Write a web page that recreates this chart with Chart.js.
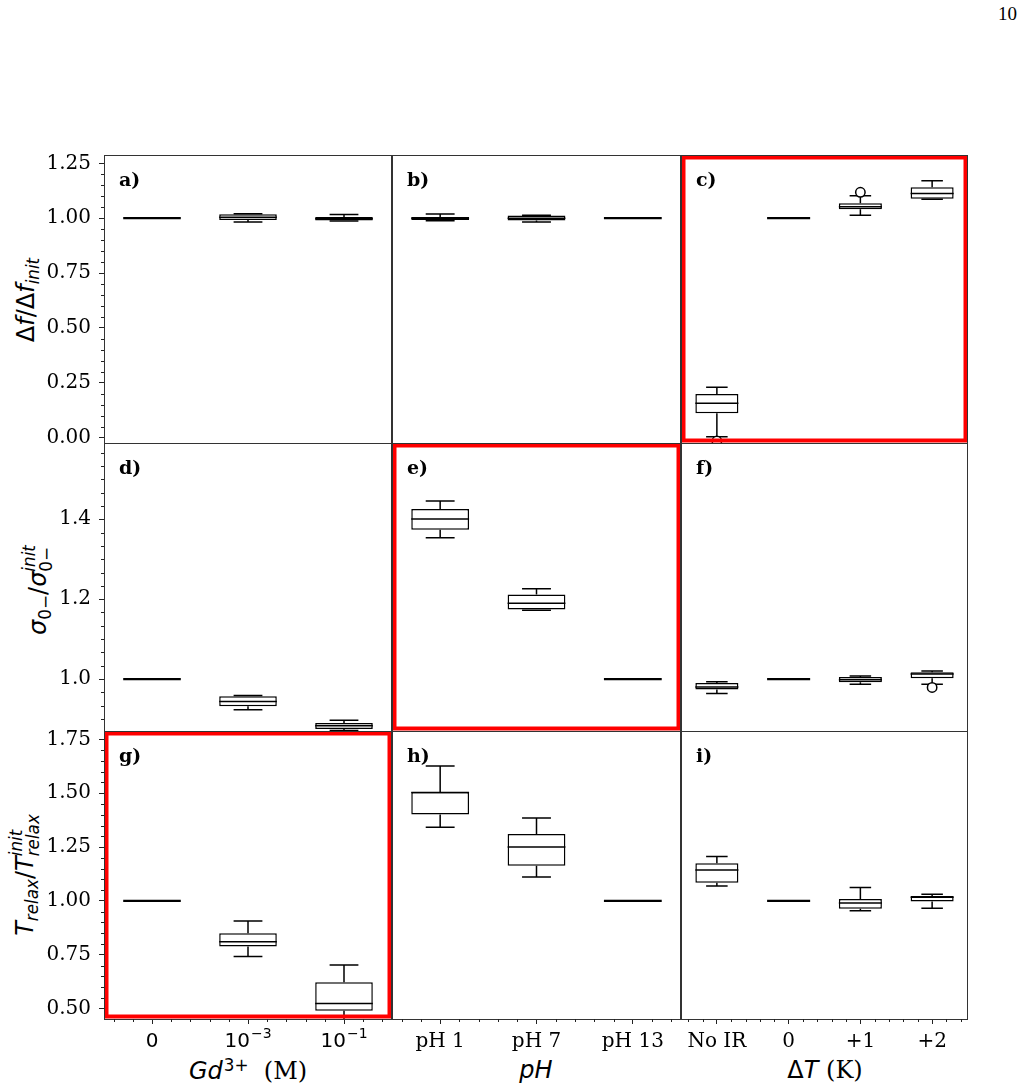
<!DOCTYPE html>
<html><head><meta charset="utf-8">
<script src="https://cdn.jsdelivr.net/npm/chart.js@4.4.1/dist/chart.umd.min.js"></script>
<style>
html,body{margin:0;padding:0;background:#fff;}
body{width:1024px;height:1090px;position:relative;overflow:hidden;}
canvas{position:absolute;left:0;top:0;}
.t{position:absolute;white-space:nowrap;color:#000;line-height:1;}
.m{font-family:"DejaVu Sans";font-size:24px;}
.s{font-family:"DejaVu Serif";font-size:24px;}
.rot{transform:translate(-50%,-50%) rotate(-90deg);}
.ctr{transform:translate(-50%,-50%);}
.sb{font-size:0.7em;position:relative;top:0.3em;}
.sp{font-size:0.7em;position:relative;top:-0.5em;margin-left:1px;}
.ss{display:inline-block;font-size:0.7em;line-height:1;vertical-align:-0.35em;}
.ss span{display:block;}
</style></head>
<body>
<div class="t" style="right:7px;top:4px;font-family:'Liberation Serif';font-size:19px;">10</div>
<div class="t m rot" style="left:26px;top:300px;">Δ<i>f</i>/Δ<i>f</i><span class="sb"><i>init</i></span></div>
<div class="t m rot" style="left:38px;top:590px;"><i>σ</i><span class="sb">0−</span>/<i>σ</i><span class="ss"><span><i>init</i></span><span>0−</span></span></div>
<div class="t m rot" style="left:25px;top:875px;"><i>T</i><span class="sb"><i>relax</i></span>/<i>T</i><span class="ss"><span><i>init</i></span><span><i>relax</i></span></span></div>
<div class="t ctr" style="left:248px;top:1071px;"><span class="m"><i>Gd</i><span class="sp">3+</span></span><span class="s">&nbsp; (M)</span></div>
<div class="t m ctr" style="left:536px;top:1070px;"><i>pH</i></div>
<div class="t ctr" style="left:825px;top:1070px;"><span class="m">Δ<i>T</i></span><span class="s"> (K)</span></div>
<script>
// ---------- categories / tick labels ----------
const gdLabels = ['0', '10⁻³', '10⁻¹'];
const phLabels = ['pH 1', 'pH 7', 'pH 13'];
const dtLabels = ['No IR', '0', '+1', '+2'];
const row1Ticks = [0, 0.25, 0.5, 0.75, 1.0, 1.25];
const row2Ticks = [1.0, 1.2, 1.4];
const row3Ticks = [0.5, 0.75, 1.0, 1.25, 1.5, 1.75];

// ---------- box plot values (whisker low, Q1, median, Q3, whisker high, outliers) ----------
// a) Δf/Δf_init vs Gd3+
const aLow  = [1, 0.983, 0.987];
const aQ1   = [1, 0.992, 0.990];
const aMed  = [1, 1.004, 0.998];
const aQ3   = [1, 1.018, 1.005];
const aHigh = [1, 1.020, 1.017];
// b) Δf/Δf_init vs pH
const bLow  = [0.988, 0.983, 1];
const bQ1   = [0.992, 0.990, 1];
const bMed  = [1.000, 1.000, 1];
const bQ3   = [1.006, 1.012, 1];
const bHigh = [1.019, 1.014, 1];
// c) Δf/Δf_init vs ΔT
const cLow  = [0.005, 1, 1.013, 1.086];
const cQ1   = [0.111, 1, 1.041, 1.089];
const cMed  = [0.157, 1, 1.052, 1.113];
const cQ3   = [0.199, 1, 1.068, 1.141];
const cHigh = [0.230, 1, 1.102, 1.171];
const cOut  = [-0.015, null, 1.118, null];
// d) σ/σ_init vs Gd3+
const dLow  = [1, 0.923, 0.871];
const dQ1   = [1, 0.932, 0.875];
const dMed  = [1, 0.944, 0.883];
const dQ3   = [1, 0.957, 0.890];
const dHigh = [1, 0.959, 0.897];
// e) σ/σ_init vs pH
const eLow  = [1.354, 1.172, 1];
const eQ1   = [1.374, 1.174, 1];
const eMed  = [1.401, 1.190, 1];
const eQ3   = [1.426, 1.212, 1];
const eHigh = [1.446, 1.226, 1];
// f) σ/σ_init vs ΔT
const fLow  = [0.964, 1, 0.987, 0.987];
const fQ1   = [0.974, 1, 0.992, 1.002];
const fMed  = [0.980, 1, 0.998, 1.013];
const fQ3   = [0.990, 1, 1.005, 1.017];
const fHigh = [0.993, 1, 1.008, 1.020];
const fOut  = [null, null, null, 0.979];
// g) T/T_init vs Gd3+
const gLow  = [1, 0.742, 0.440];
const gQ1   = [1, 0.788, 0.490];
const gMed  = [1, 0.811, 0.524];
const gQ3   = [1, 0.850, 0.623];
const gHigh = [1, 0.907, 0.703];
// h) T/T_init vs pH
const hLow  = [1.342, 1.111, 1];
const hQ1   = [1.401, 1.164, 1];
const hMed  = [1.503, 1.251, 1];
const hQ3   = [1.506, 1.311, 1];
const hHigh = [1.627, 1.385, 1];
// i) T/T_init vs ΔT
const iLow  = [1.070, 1, 0.955, 0.966];
const iQ1   = [1.084, 1, 0.964, 0.997];
const iMed  = [1.144, 1, 0.991, 1.017];
const iQ3   = [1.175, 1, 1.009, 1.023];
const iHigh = [1.206, 1, 1.062, 1.031];

// ---------- layout ----------
const COLX = [104, 392, 681, 968];
const ROWY = [155, 443, 731, 1019];
const rowRange = [[-0.024, 1.288], [0.870, 1.591], [0.452, 1.789]];
const rowTicks = [row1Ticks, row2Ticks, row3Ticks];
const rowDec = [2, 1, 2];
const rowMinor = [0.05, 0.2 / 6, 0.05];
const colLabels = [gdLabels, phLabels, dtLabels];
const colFont = ['DejaVu Sans', 'DejaVu Serif', 'DejaVu Serif'];
const SUP = {'⁻': '−', '⁰': '0', '¹': '1', '²': '2', '³': '3', '⁴': '4', '⁵': '5', '⁶': '6', '⁷': '7', '⁸': '8', '⁹': '9'};

const panels = [
  {r:0,c:0,id:'a)',lo:aLow,q1:aQ1,md:aMed,q3:aQ3,hi:aHigh},
  {r:0,c:1,id:'b)',lo:bLow,q1:bQ1,md:bMed,q3:bQ3,hi:bHigh},
  {r:0,c:2,id:'c)',lo:cLow,q1:cQ1,md:cMed,q3:cQ3,hi:cHigh,out:cOut,red:true},
  {r:1,c:0,id:'d)',lo:dLow,q1:dQ1,md:dMed,q3:dQ3,hi:dHigh},
  {r:1,c:1,id:'e)',lo:eLow,q1:eQ1,md:eMed,q3:eQ3,hi:eHigh,red:true},
  {r:1,c:2,id:'f)',lo:fLow,q1:fQ1,md:fMed,q3:fQ3,hi:fHigh,out:fOut},
  {r:2,c:0,id:'g)',lo:gLow,q1:gQ1,md:gMed,q3:gQ3,hi:gHigh,red:true},
  {r:2,c:1,id:'h)',lo:hLow,q1:hQ1,md:hMed,q3:hQ3,hi:hHigh},
  {r:2,c:2,id:'i)',lo:iLow,q1:iQ1,md:iMed,q3:iQ3,hi:iHigh}
];

function makePanel(p) {
  const cv = document.createElement('canvas');
  cv.width = 1024; cv.height = 1090;
  document.body.appendChild(cv);
  const L = COLX[p.c], R = COLX[p.c + 1], T = ROWY[p.r], B = ROWY[p.r + 1];
  const showY = p.c === 0, showX = p.r === 2;
  const mathTicks = showX && p.c === 0;
  const YW = 80, XH = 50;
  const labels = colLabels[p.c];

  const boxPlugin = {
    id: 'box' + p.id,
    beforeDatasetsDraw(chart) {
      const {ctx, chartArea: a, scales: {x, y}} = chart;
      const cw = x.getPixelForValue(1) - x.getPixelForValue(0);
      ctx.save();
      ctx.beginPath(); ctx.rect(a.left, a.top, a.right - a.left, a.bottom - a.top); ctx.clip();
      ctx.strokeStyle = '#000'; ctx.lineWidth = 1.5;
      labels.forEach((_, i) => {
        const cx = x.getPixelForValue(i);
        const yl = y.getPixelForValue(p.lo[i]), yh = y.getPixelForValue(p.hi[i]);
        const y1 = y.getPixelForValue(p.q1[i]), y3 = y.getPixelForValue(p.q3[i]);
        ctx.beginPath();
        ctx.moveTo(cx, y3); ctx.lineTo(cx, yh);
        ctx.moveTo(cx, y1); ctx.lineTo(cx, yl);
        ctx.moveTo(cx - 0.15 * cw, yh); ctx.lineTo(cx + 0.15 * cw, yh);
        ctx.moveTo(cx - 0.15 * cw, yl); ctx.lineTo(cx + 0.15 * cw, yl);
        ctx.stroke();
      });
      ctx.restore();
    },
    afterDatasetsDraw(chart) {
      const {ctx, chartArea: a, scales: {x, y}} = chart;
      const cw = x.getPixelForValue(1) - x.getPixelForValue(0);
      ctx.save();
      ctx.beginPath(); ctx.rect(a.left, a.top, a.right - a.left, a.bottom - a.top); ctx.clip();
      ctx.strokeStyle = '#000';
      labels.forEach((_, i) => {
        const cx = x.getPixelForValue(i);
        const ym = y.getPixelForValue(p.md[i]);
        ctx.lineWidth = (p.q1[i] === p.q3[i]) ? 2.2 : 1.5;
        ctx.beginPath();
        ctx.moveTo(cx - 0.3 * cw, ym); ctx.lineTo(cx + 0.3 * cw, ym);
        ctx.stroke();
      });
      ctx.restore();
    },
    afterDraw(chart) {
      const {ctx, chartArea: a, scales: {x, y}} = chart;
      ctx.save();
      if (p.red) {
        ctx.strokeStyle = '#ff0000'; ctx.lineWidth = 4;
        ctx.strokeRect(a.left + 2.5, a.top + 2.5, a.right - a.left - 5, a.bottom - a.top - 5);
      }
      ctx.strokeStyle = '#333'; ctx.lineWidth = 1;
      ctx.strokeRect(a.left + 0.5, a.top + 0.5, a.right - a.left - 1, a.bottom - a.top);
      // panel letter
      ctx.fillStyle = '#000';
      ctx.font = 'bold 19px "DejaVu Serif"';
      ctx.textBaseline = 'alphabetic'; ctx.textAlign = 'left';
      ctx.fillText(p.id, a.left + 15, a.top + 31);
      // minor ticks
      ctx.strokeStyle = '#222'; ctx.lineWidth = 1;
      if (showY) {
        const st = rowMinor[p.r], base = rowTicks[p.r][0];
        const [mn, mx] = rowRange[p.r];
        const kmin = Math.ceil((mn - base) / st - 1e-6), kmax = Math.floor((mx - base) / st + 1e-6);
        ctx.beginPath();
        for (let k = kmin; k <= kmax; k++) {
          const v = base + k * st;
          if (rowTicks[p.r].some(t => Math.abs(t - v) < 1e-6)) continue;
          const py = Math.round(y.getPixelForValue(v)) + 0.5;
          ctx.moveTo(a.left, py); ctx.lineTo(a.left - 3, py);
        }
        ctx.stroke();
      }
      if (showX) {
        ctx.beginPath();
        for (let k = -2; k <= labels.length * 5 - 3; k++) {
          if (k % 5 === 0) continue;
          const px = Math.round(x.getPixelForValue(k / 5)) + 0.5;
          ctx.moveTo(px, a.bottom); ctx.lineTo(px, a.bottom + 3);
        }
        ctx.stroke();
      }
      // mathtext-style tick labels (base + raised exponent)
      if (mathTicks) {
        ctx.fillStyle = '#000';
        ctx.textAlign = 'left'; ctx.textBaseline = 'alphabetic';
        const by = a.bottom + 28;
        labels.forEach((lab, i) => {
          let base = '', exp = '';
          for (const ch of lab) { if (SUP[ch]) exp += SUP[ch]; else base += ch; }
          ctx.font = '20px "DejaVu Sans"';
          const wb = ctx.measureText(base).width;
          ctx.font = '14px "DejaVu Sans"';
          const we = exp ? ctx.measureText(exp).width + 1 : 0;
          const x0 = x.getPixelForValue(i) - (wb + we) / 2;
          ctx.font = '20px "DejaVu Sans"';
          ctx.fillText(base, x0, by);
          if (exp) { ctx.font = '14px "DejaVu Sans"'; ctx.fillText(exp, x0 + wb + 1, by - 9); }
        });
      }
      ctx.restore();
    }
  };

  const xScale = {
    display: showX, offset: true,
    grid: {display: true, offset: false, drawOnChartArea: false, drawTicks: true, tickLength: 5, color: '#222', lineWidth: 1},
    border: {display: false},
    ticks: {display: !mathTicks, font: {family: colFont[p.c], size: 20}, color: '#000', padding: 6, maxRotation: 0, autoSkip: false}
  };
  if (showX) xScale.afterFit = s => { s.height = XH; };
  const yScale = {
    display: showY, min: rowRange[p.r][0], max: rowRange[p.r][1],
    grid: {display: true, drawOnChartArea: false, drawTicks: true, tickLength: 5, color: '#222', lineWidth: 1},
    border: {display: false},
    ticks: {font: {family: 'DejaVu Serif', size: 20}, color: '#000', padding: 8,
            callback: v => Number(v).toFixed(rowDec[p.r])},
    afterBuildTicks: s => { s.ticks = rowTicks[p.r].map(v => ({value: v})); }
  };
  if (showY) yScale.afterFit = s => { s.width = YW; };

  new Chart(cv, {
    type: 'bar',
    data: {
      labels: labels,
      datasets: [
        {type: 'bar', data: p.q1.map((v, i) => [v, p.q3[i]]), backgroundColor: '#fff', borderColor: '#000',
         borderWidth: 1.5, borderSkipped: false, barPercentage: 0.6, categoryPercentage: 1.0},
        {type: 'line', data: p.out || labels.map(() => null), showLine: false, pointRadius: 4.7,
         pointBackgroundColor: '#fff', pointBorderColor: '#000', pointBorderWidth: 1.5, clip: 0}
      ]
    },
    options: {
      responsive: false, animation: false, events: [],
      layout: {padding: {left: showY ? L - YW : L, right: 1024 - R, top: T, bottom: showX ? 1090 - B - XH : 1090 - B}},
      plugins: {legend: {display: false}, tooltip: {enabled: false}},
      scales: {x: xScale, y: yScale}
    },
    plugins: [boxPlugin]
  });
}
panels.forEach(makePanel);
</script>
</body></html>
